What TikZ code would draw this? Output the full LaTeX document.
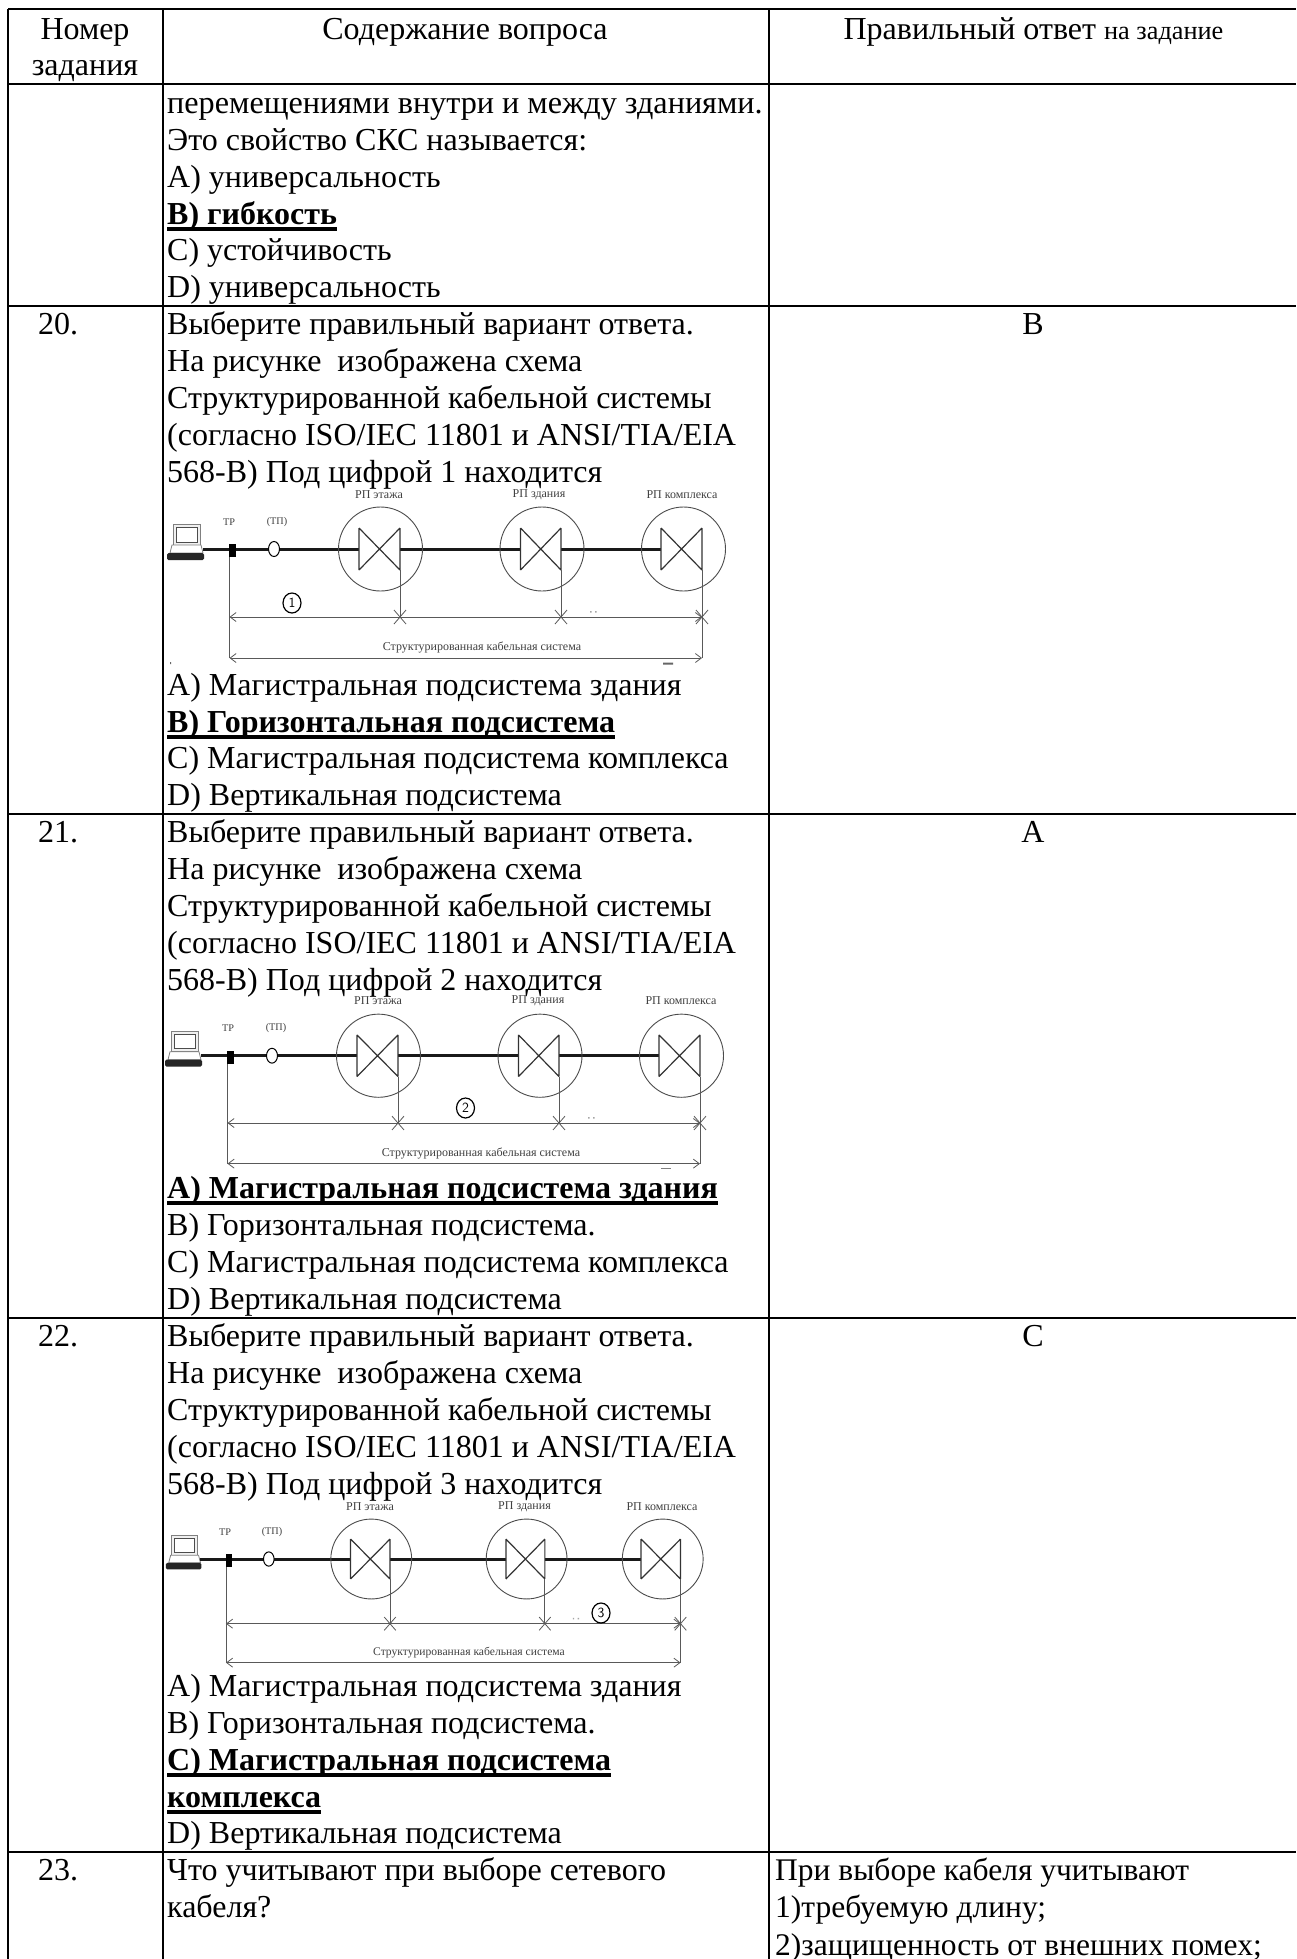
\documentclass[tikz,border=0pt]{standalone}
\usepackage{fontspec}
\setmainfont{Liberation Serif}
\usetikzlibrary{arrows.meta,calc,shapes.geometric}
\newsavebox{\bulbox}
\newcommand{\bul}[1]{\sbox{\bulbox}{\textbf{#1}}\usebox{\bulbox}\llap{\rule[-7pt]{\wd\bulbox}{4pt}}}
\tikzset{
 txt/.style={anchor=base west,inner sep=0pt,font=\fontsize{32}{36}\selectfont},
 ctr/.style={anchor=base,inner sep=0pt,font=\fontsize{32}{36}\selectfont},
 rule/.style={line width=2pt,black},
 thinl/.style={draw=black!65,line width=0.8pt},
 cab/.style={line width=3pt,black!90},
 rp/.style={draw=black!70,line width=0.9pt},
 val/.style={draw=black!80,line width=1.2pt},
 dim/.style={draw=black!65,line width=0.8pt,{Straight Barb[length=6pt,width=9pt]}-{Straight Barb[length=6pt,width=9pt]}},
 smalll/.style={inner sep=0pt,text=black!75,font=\fontsize{12}{14}\selectfont},
 tpl/.style={inner sep=0pt,text=black!75,font=\fontsize{10.2}{12}\selectfont},
 numc/.style={ellipse,draw=black,line width=1.2pt,inner sep=0pt,minimum width=18pt,minimum height=20pt,font=\sffamily\fontsize{14}{14}\selectfont}
}
% #1 prefix, #2 xshift, #3 yshift, #4 xscale, #5 yscale
\newcommand{\sksdiagram}[5]{%
\begin{scope}[shift={(#2,#3)},xscale=#4,yscale=#5]
 % laptop
 \draw[draw=black!50,fill=black!6,line width=0.8pt] (173,524) rectangle (200,545);
 \draw[draw=black!70,fill=white,line width=0.8pt] (176,527) rectangle (197,542);
 \draw[draw=black!50,fill=white,line width=0.8pt] (172,545)--(201,545)--(203,553)--(170,553)--cycle;
 \fill[black!85,rounded corners=1.5pt] (167,553) rectangle (204,560);
 % cable nodes
 \coordinate (#1pc) at (203,549);
 \coordinate (#1b) at (229.5,557);
 \coordinate (#1tl) at (359,549);
 \coordinate (#1a1) at (400,549);
 \coordinate (#1a2) at (520.5,549);
 \coordinate (#1b1) at (561,549);
 \coordinate (#1b2) at (661,549);
 \draw[cab] (#1pc)--(#1tl);
 \draw[cab] (#1a1)--(#1a2);
 \draw[cab] (#1b1)--(#1b2);
 \fill[black] (229,544) rectangle (236,557);
 \draw[draw=black,fill=white,line width=1pt] (274,549) ellipse (5.5 and 7.5);
 \foreach \n/\c/\l/\r in {p/380.5/359/400,q/542/520.5/561,s/683.5/661/702}{
  \draw[rp] (\c,549) circle (42);
  \draw[val] (\l,528)--(\l,570) (\r,528)--(\r,570) (\l,528)--(\r,570) (\l,570)--(\r,528);
  \coordinate (#1\n top) at (\r,570);
  \coordinate (#1\n bot) at (\r,617);
  \draw[thinl] (#1\n top)--(#1\n bot);
  \draw[thinl] ($(#1\n bot)+(-6,-7)$)--($(#1\n bot)+(6,7)$) ($(#1\n bot)+(-6,7)$)--($(#1\n bot)+(6,-7)$);
 }
 \coordinate (#1l1) at (229.5,617);
 \coordinate (#1l2) at (229.5,658);
 \coordinate (#1r2) at (702,658);
 \draw[thinl] (#1b)--(#1l2);
 \draw[thinl] (#1sbot)--(#1r2);
 \draw[dim] (#1l1)--(#1sbot);
 \draw[dim] (#1l2)--(#1r2);
 \fill[black!35] (590,611) rectangle (591.5,612.5) (595,611) rectangle (596.5,612.5);
\end{scope}}
\begin{document}
\begin{tikzpicture}[x=1pt,y=-1pt]
\useasboundingbox (0,0) rectangle (1296,1959);
\fill[white] (0,0) rectangle (1296,1959);
% grid
\draw[rule] (8,9)--(1296,9) (8,83.5)--(1296,83.5) (8,306)--(1296,306) (8,814)--(1296,814) (8,1318)--(1296,1318) (8,1852)--(1296,1852);
\draw[rule] (8,9)--(8,1959) (163,9)--(163,1959) (769,9)--(769,1959);
% header
\node[ctr] (h1a) at (85,40) {Номер};
\node[ctr] (h1b) at (85,76) {задания};
\node[ctr] (h2) at (465,40) {Содержание вопроса};
\node[ctr] (h3) at (1033.5,40) {Правильный ответ {\fontsize{26.3}{30}\selectfont на задание}};
% row 19 continued
\node[txt,font=\fontsize{32.2}{36}\selectfont] (a1) at (167,113) {перемещениями внутри и между зданиями.};
\node[txt] (a2) at (167,150) {Это свойство СКС называется:};
\node[txt] (a3) at (167,187) {А) универсальность};
\node[txt] (a4) at (167,224) {\bul{В) гибкость}};
\node[txt] (a5) at (167,260) {С) устойчивость};
\node[txt] (a6) at (167,297) {D) универсальность};
% row 20
\node[ctr] (n20) at (58,334.5) {20.};
\node[ctr] (r20) at (1033,334.5) {В};
\node[txt] (b1) at (167,334.5) {Выберите правильный вариант ответа.};
\node[txt] (b2) at (167,371.5) {На рисунке~ изображена схема};
\node[txt] (b3) at (167,408.5) {Структурированной кабельной системы};
\node[txt] (b4) at (167,445.5) {(согласно ISO/IEC 11801 и ANSI/TIA/EIA};
\node[txt] (b5) at (167,482.5) {568-В) Под цифрой 1 находится};
\sksdiagram{x}{0}{0}{1}{1}
\node[smalll] (x1) at (379,495) {РП этажа};
\node[smalll] (x2) at (539,495) {РП здания};
\node[smalll] (x3) at (682,495) {РП комплекса};
\node[tpl] (x4) at (229,522) {ТР};
\node[tpl] (x5) at (277,522) {(ТП)};
\node[numc] (x6) at (292,603) {1};
\node[smalll] (x7) at (482,647) {Структурированная кабельная система};
\fill[black!60] (170,662) rectangle (171,664) (663,662.5) rectangle (673,664.5);
\node[txt] (b6) at (167,695) {А) Магистральная подсистема здания};
\node[txt] (b7) at (167,732) {\bul{В) Горизонтальная подсистема}};
\node[txt] (b8) at (167,768) {С) Магистральная подсистема комплекса};
\node[txt] (b9) at (167,805) {D) Вертикальная подсистема};
% row 21
\node[ctr] (n21) at (58,842) {21.};
\node[ctr] (r21) at (1033,842) {А};
\node[txt] (c1) at (167,842) {Выберите правильный вариант ответа.};
\node[txt] (c2) at (167,879) {На рисунке~ изображена схема};
\node[txt] (c3) at (167,916) {Структурированной кабельной системы};
\node[txt] (c4) at (167,953) {(согласно ISO/IEC 11801 и ANSI/TIA/EIA};
\node[txt] (c5) at (167,990) {568-В) Под цифрой 2 находится};
\sksdiagram{y}{-2}{512.2}{1}{0.99}
\node[smalll] (y1) at (378,1001) {РП этажа};
\node[smalll] (y2) at (538,1001) {РП здания};
\node[smalll] (y3) at (681,1001) {РП комплекса};
\node[tpl] (y4) at (228,1028) {ТР};
\node[tpl] (y5) at (276,1028) {(ТП)};
\node[numc] (y6) at (465.5,1108) {2};
\node[smalll] (y7) at (481,1153) {Структурированная кабельная система};
\fill[black!50] (661,1168) rectangle (671,1169);
\node[txt] (c6) at (167,1198) {\bul{А) Магистральная подсистема здания}};
\node[txt] (c7) at (167,1235) {В) Горизонтальная подсистема.};
\node[txt] (c8) at (167,1272) {С) Магистральная подсистема комплекса};
\node[txt] (c9) at (167,1309) {D) Вертикальная подсистема};
% row 22
\node[ctr] (n22) at (58,1346) {22.};
\node[ctr] (r22) at (1033,1346) {С};
\node[txt] (d1) at (167,1346) {Выберите правильный вариант ответа.};
\node[txt] (d2) at (167,1383) {На рисунке~ изображена схема};
\node[txt] (d3) at (167,1420) {Структурированной кабельной системы};
\node[txt] (d4) at (167,1457) {(согласно ISO/IEC 11801 и ANSI/TIA/EIA};
\node[txt] (d5) at (167,1494) {568-В) Под цифрой 3 находится};
\sksdiagram{z}{5.2}{1036.9}{0.962}{0.951}
\node[smalll] (z1) at (370,1507) {РП этажа};
\node[smalll] (z2) at (524.5,1507) {РП здания};
\node[smalll] (z3) at (662,1507) {РП комплекса};
\node[tpl] (z4) at (225,1532) {ТР};
\node[tpl] (z5) at (272,1532) {(ТП)};
\node[numc] (z6) at (601,1613) {3};
\node[smalll,font=\fontsize{11.6}{14}\selectfont] (z7) at (469,1653) {Структурированная кабельная система};
\node[txt] (d6) at (167,1696) {А) Магистральная подсистема здания};
\node[txt] (d7) at (167,1733) {В) Горизонтальная подсистема.};
\node[txt] (d8) at (167,1770) {\bul{С) Магистральная подсистема}};
\node[txt] (d9) at (167,1807) {\bul{комплекса}};
\node[txt] (d10) at (167,1843) {D) Вертикальная подсистема};
% row 23
\node[ctr] (n23) at (58,1880) {23.};
\node[txt] (e1) at (167,1880) {Что учитывают при выборе сетевого};
\node[txt] (e2) at (167,1917) {кабеля?};
\node[txt,font=\fontsize{31.5}{36}\selectfont] (f1) at (775,1880) {При выборе кабеля учитывают};
\node[txt,font=\fontsize{31.5}{36}\selectfont] (f2) at (775,1917) {1)требуемую длину;};
\node[txt,font=\fontsize{31.5}{36}\selectfont] (f3) at (775,1955) {2)защищенность от внешних помех;};
\end{tikzpicture}
\end{document}
